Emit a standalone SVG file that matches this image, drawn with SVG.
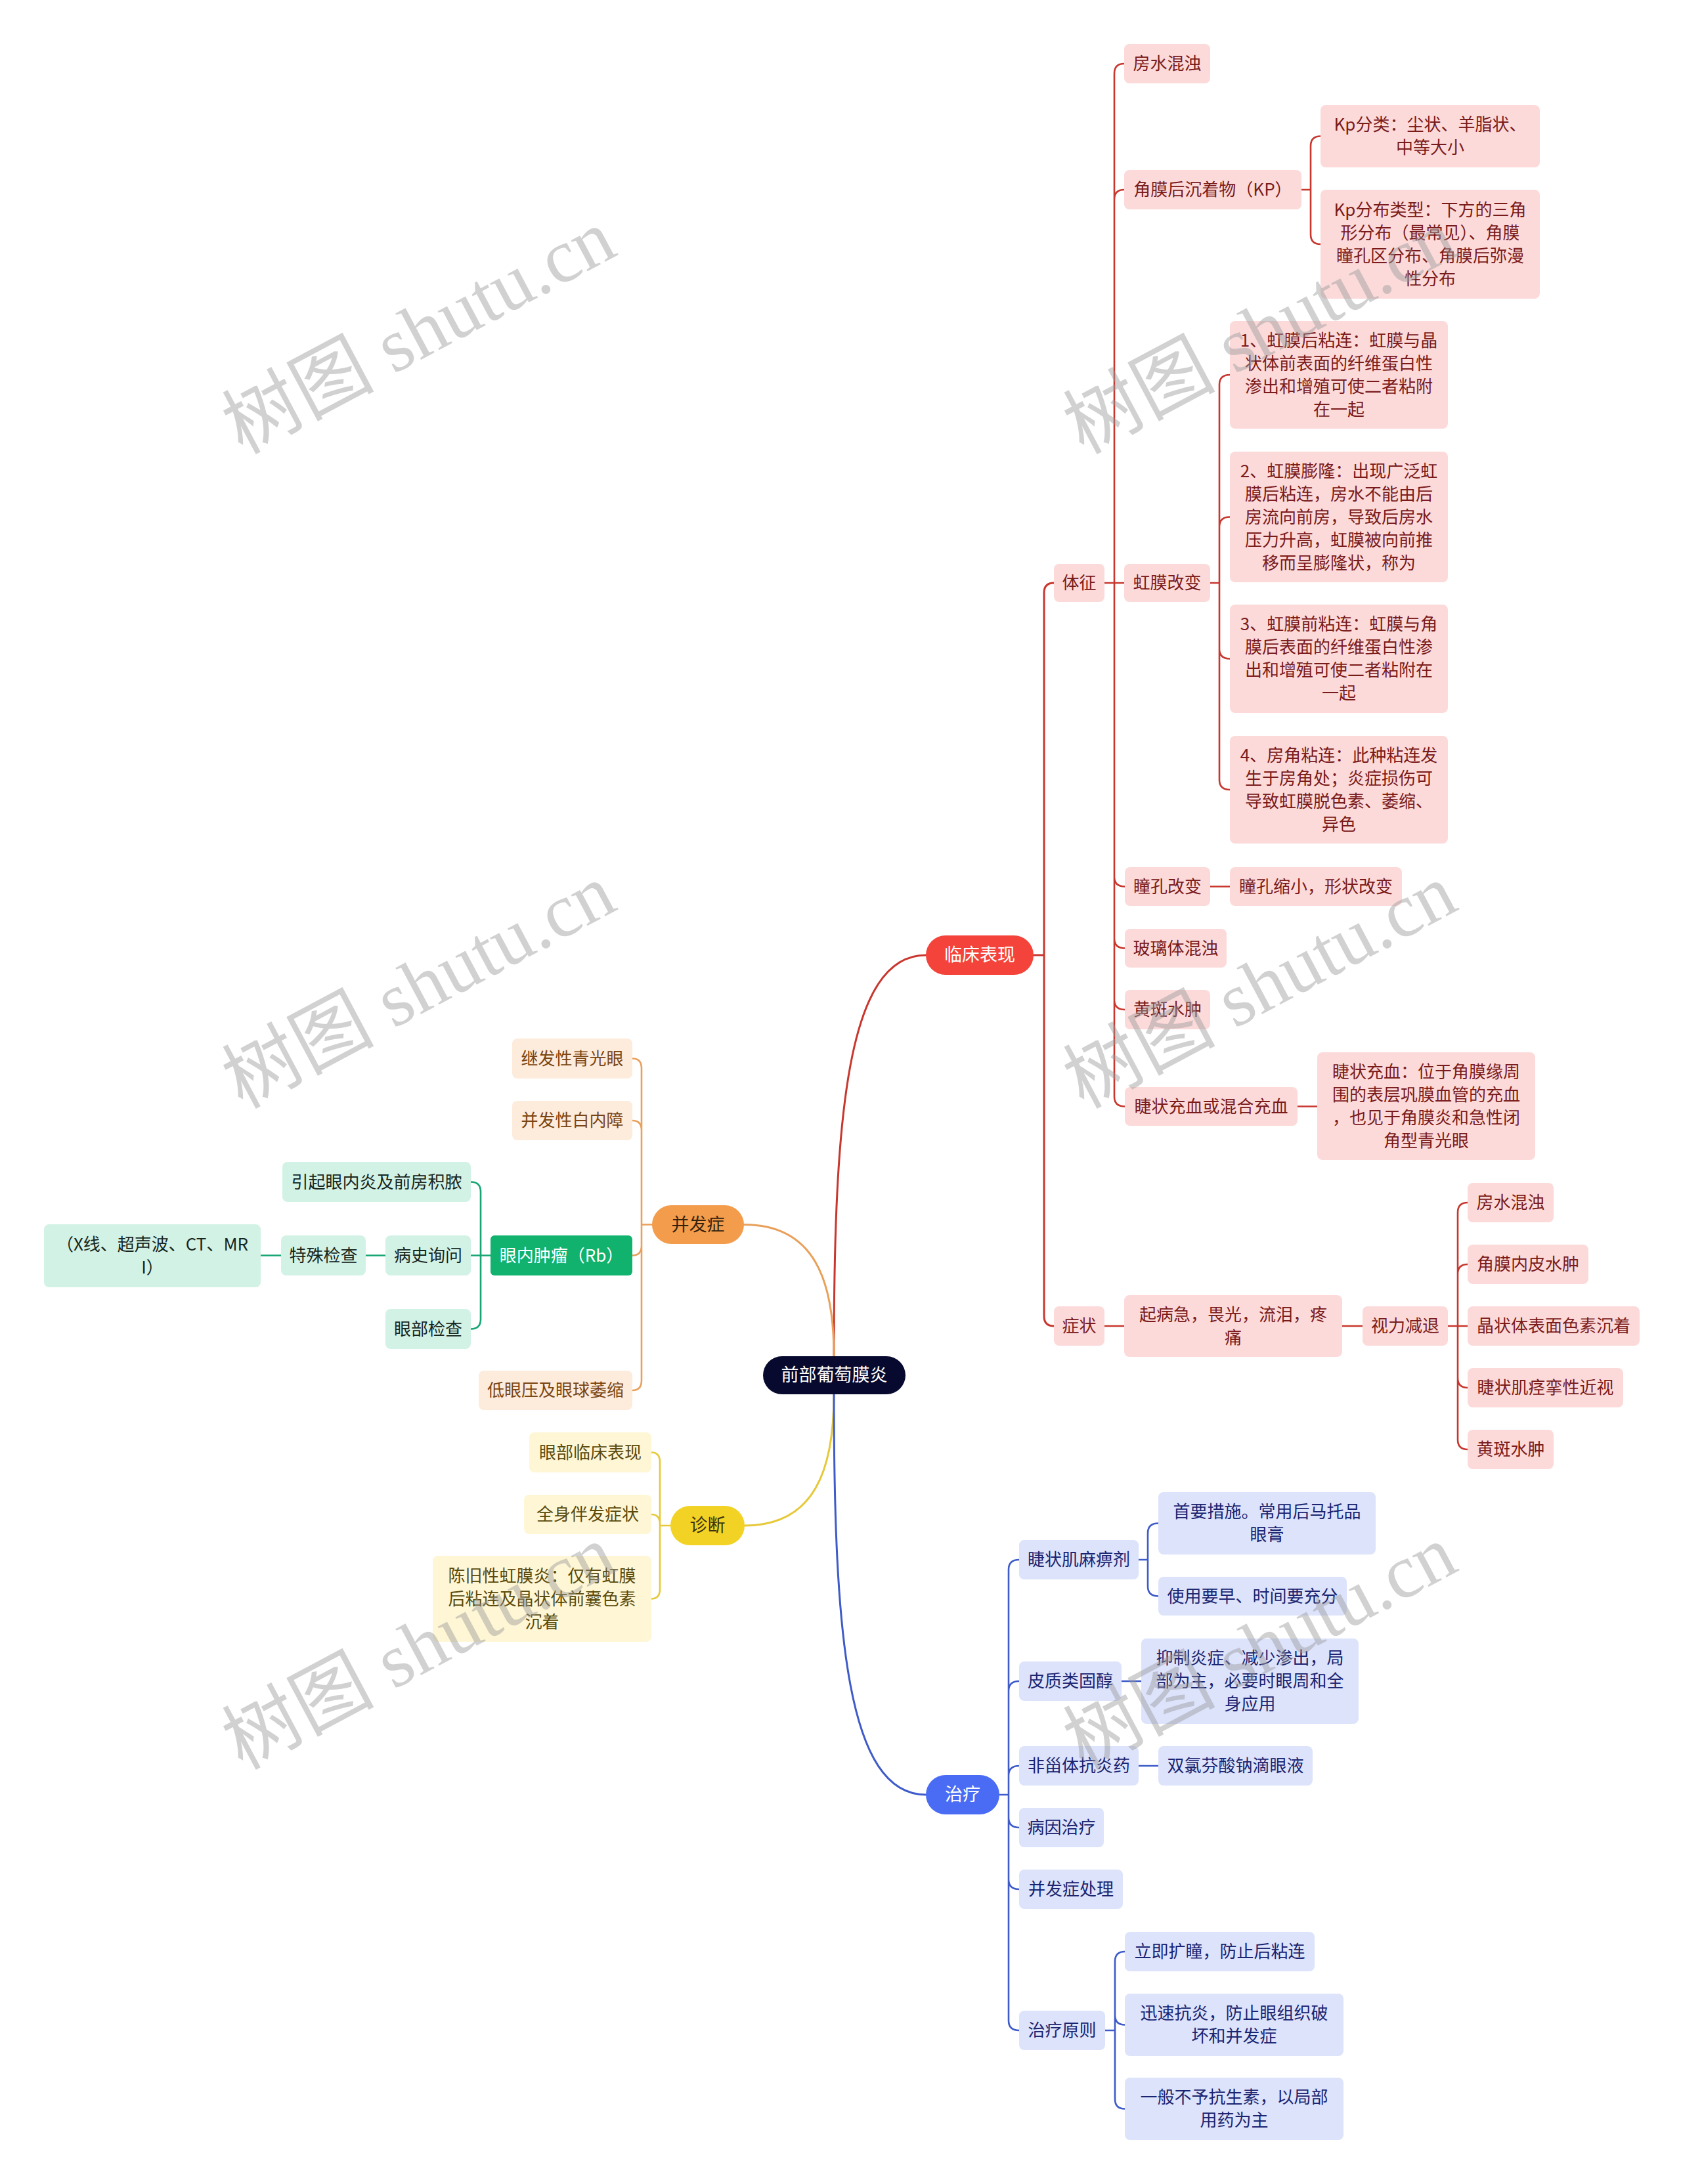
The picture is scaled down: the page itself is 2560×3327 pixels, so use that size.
<svg xmlns="http://www.w3.org/2000/svg" width="2560" height="3327" viewBox="0 0 2560 3327">
<style>
text{font-family:"Noto Sans CJK SC","Noto Sans",sans-serif;font-size:26px;text-anchor:middle}
.c{fill:none;stroke-width:2.6;stroke-linecap:round}
.cr{stroke:#C8372E}.co{stroke:#E9A05A}.cg{stroke:#17A673}.cy{stroke:#E6C93A}.cb{stroke:#3E5BC9}
.m{stroke-width:3}
.r rect{fill:#FCDADA}.r text{fill:#7A1B1B}
.o rect{fill:#FDEBDC}.o text{fill:#7A4512}
.g rect{fill:#D2F2E5}.g text{fill:#17261F}
.y rect{fill:#FEF6D4}.y text{fill:#5A4A0C}
.b rect{fill:#DCE3FB}.b text{fill:#1B2470}
.wm{font-family:"Liberation Serif","Noto Sans CJK SC",serif;font-size:116px;fill:#9A9A9A;opacity:.45}
</style>
<rect width="2560" height="3327" fill="#FFFFFF"/>
<g id="connectors">
<path class="c cr m" d="M1270 2066 C1270 1700 1290 1455 1410 1455"/>
<path class="c co m" d="M1270 2066 C1270 1950 1240 1865.5 1133 1865.5"/>
<path class="c cy m" d="M1270 2124 C1270 2240 1240 2324 1134 2324"/>
<path class="c cb m" d="M1270 2124 C1270 2490 1290 2734 1410 2734"/>
<path class="c cr m" d="M1574 1455 H1590 V903 Q1590 888 1605 888 M1574 1455 H1590 V2005 Q1590 2020 1605 2020"/>
<path class="c cr" d="M1682 888 H1697 V112 Q1697 97 1712 97 M1682 888 H1697 V304 Q1697 289 1712 289 M1682 888 H1712 M1682 888 H1697 V1335.5 Q1697 1350.5 1713 1350.5 M1682 888 H1697 V1429.5 Q1697 1444.5 1713 1444.5 M1682 888 H1697 V1523 Q1697 1538 1713 1538 M1682 888 H1697 V1670.5 Q1697 1685.5 1713 1685.5"/>
<path class="c cr" d="M1982 289 H1996 V222.5 Q1996 207.5 2011 207.5 M1982 289 H1996 V357 Q1996 372 2011 372"/>
<path class="c cr" d="M1843 888 H1857 V586 Q1857 571 1873 571 M1843 888 H1857 V802.5 Q1857 787.5 1873 787.5 M1843 888 H1857 V988.5 Q1857 1003.5 1873 1003.5 M1843 888 H1857 V1188 Q1857 1203 1873 1203"/>
<path class="c cr" d="M1843 1350.5 H1873 M1976 1685.5 H2006 M1682 2020 H1712 M2044 2020 H2075"/>
<path class="c cr" d="M2205 2020 H2220 V1847 Q2220 1832 2235 1832 M2205 2020 H2220 V1941 Q2220 1926 2235 1926 M2205 2020 H2235 M2205 2020 H2220 V2099 Q2220 2114 2235 2114 M2205 2020 H2220 V2193 Q2220 2208 2235 2208"/>
<path class="c cb" d="M1522 2734 H1536 V2391 Q1536 2376 1552 2376 M1522 2734 H1536 V2576 Q1536 2561 1552 2561 M1522 2734 H1536 V2705 Q1536 2690 1552 2690 M1522 2734 H1536 V2769 Q1536 2784 1552 2784 M1522 2734 H1536 V2863 Q1536 2878 1552 2878 M1522 2734 H1536 V3078 Q1536 3093 1552 3093"/>
<path class="c cb" d="M1734 2376 H1748 V2335.5 Q1748 2320.5 1764 2320.5 M1734 2376 H1748 V2416.5 Q1748 2431.5 1764 2431.5 M1708 2561 H1738 M1734 2690 H1764"/>
<path class="c cb" d="M1683 3093 H1698 V2988 Q1698 2973 1713 2973 M1683 3093 H1698 V3069.5 Q1698 3084.5 1713 3084.5 M1683 3093 H1698 V3197.5 Q1698 3212.5 1713 3212.5"/>
<path class="c co" d="M993 1865.5 H977 V1627.5 Q977 1612.5 963 1612.5 M993 1865.5 H977 V1722 Q977 1707 963 1707 M993 1865.5 H977 V1897.5 Q977 1912.5 963 1912.5 M993 1865.5 H977 V2103 Q977 2118 963 2118"/>
<path class="c cg" d="M747 1912.5 H732 V1815.5 Q732 1800.5 717 1800.5 M747 1912.5 H717 M747 1912.5 H732 V2009.5 Q732 2024.5 717 2024.5 M587 1912.5 H557 M428 1912.5 H397"/>
<path class="c cy" d="M1021 2324 H1005 V2227.5 Q1005 2212.5 992 2212.5 M1021 2324 H1005 V2322 Q1005 2307 992 2307 M1021 2324 H1005 V2420.5 Q1005 2435.5 992 2435.5"/>
</g>
<g id="root"><rect x="1162" y="2066" width="217" height="58" rx="29" fill="#070A2E"/><text x="1270.5" y="2104" fill="#FFFFFF" style="font-size:27px">前部葡萄膜炎</text></g>
<g id="n-linchuang"><rect x="1410" y="1425" width="164" height="60" rx="30" fill="#F4433A"/><text x="1492" y="1464" fill="#FFFFFF" style="font-size:27px">临床表现</text></g>
<g id="n-zhiliao"><rect x="1410" y="2704" width="112" height="60" rx="30" fill="#4A6CF4"/><text x="1466" y="2743" fill="#FFFFFF" style="font-size:27px">治疗</text></g>
<g id="n-bingfa"><rect x="993" y="1836" width="140" height="59" rx="29.5" fill="#F39C4B"/><text x="1063" y="1874.5" fill="#33220E" style="font-size:27px">并发症</text></g>
<g id="n-zhenduan"><rect x="1021" y="2294" width="113" height="60" rx="30" fill="#F2D325"/><text x="1077.5" y="2333" fill="#3A3210" style="font-size:27px">诊断</text></g>

<g class="r">
<g id="n-tizheng"><rect x="1605" y="859" width="77" height="58" rx="8"/><text x="1643.5" y="897">体征</text></g>
<g id="n-fangshui1"><rect x="1712" y="67" width="131" height="60" rx="8"/><text x="1777.5" y="106">房水混浊</text></g>
<g id="n-kp"><rect x="1712" y="259" width="270" height="60" rx="8"/><text x="1847" y="298">角膜后沉着物（KP）</text></g>
<g id="n-kp1"><rect x="2011" y="160" width="334" height="95" rx="8"/><text x="2178" y="199">Kp分类：尘状、羊脂状、</text><text x="2178" y="234">中等大小</text></g>
<g id="n-kp2"><rect x="2011" y="289" width="334" height="166" rx="8"/><text x="2178" y="328.5">Kp分布类型：下方的三角</text><text x="2178" y="363.5">形分布（最常见）、角膜</text><text x="2178" y="398.5">瞳孔区分布、角膜后弥漫</text><text x="2178" y="433.5">性分布</text></g>
<g id="n-hongmo"><rect x="1712" y="859" width="131" height="58" rx="8"/><text x="1777.5" y="897">虹膜改变</text></g>
<g id="n-hm1"><rect x="1873" y="489" width="332" height="164" rx="8"/><text x="2039" y="527.5">1、虹膜后粘连：虹膜与晶</text><text x="2039" y="562.5">状体前表面的纤维蛋白性</text><text x="2039" y="597.5">渗出和增殖可使二者粘附</text><text x="2039" y="632.5">在一起</text></g>
<g id="n-hm2"><rect x="1873" y="688" width="332" height="199" rx="8"/><text x="2039" y="726.5">2、虹膜膨隆：出现广泛虹</text><text x="2039" y="761.5">膜后粘连，房水不能由后</text><text x="2039" y="796.5">房流向前房，导致后房水</text><text x="2039" y="831.5">压力升高，虹膜被向前推</text><text x="2039" y="866.5">移而呈膨隆状，称为</text></g>
<g id="n-hm3"><rect x="1873" y="921" width="332" height="165" rx="8"/><text x="2039" y="960">3、虹膜前粘连：虹膜与角</text><text x="2039" y="995">膜后表面的纤维蛋白性渗</text><text x="2039" y="1030">出和增殖可使二者粘附在</text><text x="2039" y="1065">一起</text></g>
<g id="n-hm4"><rect x="1873" y="1121" width="332" height="164" rx="8"/><text x="2039" y="1159.5">4、房角粘连：此种粘连发</text><text x="2039" y="1194.5">生于房角处；炎症损伤可</text><text x="2039" y="1229.5">导致虹膜脱色素、萎缩、</text><text x="2039" y="1264.5">异色</text></g>
<g id="n-tongkong"><rect x="1713" y="1321" width="130" height="59" rx="8"/><text x="1778" y="1359.5">瞳孔改变</text></g>
<g id="n-tongkong1"><rect x="1873" y="1321" width="262" height="59" rx="8"/><text x="2004" y="1359.5">瞳孔缩小，形状改变</text></g>
<g id="n-boli"><rect x="1713" y="1415" width="155" height="59" rx="8"/><text x="1790.5" y="1453.5">玻璃体混浊</text></g>
<g id="n-huangban1"><rect x="1713" y="1508" width="130" height="60" rx="8"/><text x="1778" y="1547">黄斑水肿</text></g>
<g id="n-jiezhuang"><rect x="1713" y="1656" width="263" height="59" rx="8"/><text x="1844.5" y="1694.5">睫状充血或混合充血</text></g>
<g id="n-jiezhuang1"><rect x="2006" y="1603" width="332" height="164" rx="8"/><text x="2172" y="1641.5">睫状充血：位于角膜缘周</text><text x="2172" y="1676.5">围的表层巩膜血管的充血</text><text x="2172" y="1711.5">，也见于角膜炎和急性闭</text><text x="2172" y="1746.5">角型青光眼</text></g>
<g id="n-zhengzhuang"><rect x="1605" y="1990" width="77" height="60" rx="8"/><text x="1643.5" y="2029">症状</text></g>
<g id="n-qibing"><rect x="1712" y="1973" width="332" height="94" rx="8"/><text x="1878" y="2011.5">起病急，畏光，流泪，疼</text><text x="1878" y="2046.5">痛</text></g>
<g id="n-shili"><rect x="2075" y="1990" width="130" height="60" rx="8"/><text x="2140" y="2029">视力减退</text></g>
<g id="n-fangshui2"><rect x="2235" y="1802" width="131" height="60" rx="8"/><text x="2300.5" y="1841">房水混浊</text></g>
<g id="n-neipi"><rect x="2235" y="1896" width="184" height="60" rx="8"/><text x="2327" y="1935">角膜内皮水肿</text></g>
<g id="n-jingzhuang"><rect x="2235" y="1990" width="262" height="60" rx="8"/><text x="2366" y="2029">晶状体表面色素沉着</text></g>
<g id="n-jiezhuangji"><rect x="2235" y="2084" width="237" height="60" rx="8"/><text x="2353.5" y="2123">睫状肌痉挛性近视</text></g>
<g id="n-huangban2"><rect x="2235" y="2178" width="131" height="60" rx="8"/><text x="2300.5" y="2217">黄斑水肿</text></g>
</g>

<g class="b">
<g id="n-mabi"><rect x="1552" y="2346" width="182" height="60" rx="8"/><text x="1643" y="2385">睫状肌麻痹剂</text></g>
<g id="n-mabi1"><rect x="1764" y="2273" width="331" height="95" rx="8"/><text x="1929.5" y="2312">首要措施。常用后马托品</text><text x="1929.5" y="2347">眼膏</text></g>
<g id="n-mabi2"><rect x="1764" y="2402" width="287" height="59" rx="8"/><text x="1907.5" y="2440.5">使用要早、时间要充分</text></g>
<g id="n-pizhi"><rect x="1552" y="2531" width="156" height="60" rx="8"/><text x="1630" y="2570">皮质类固醇</text></g>
<g id="n-pizhi1"><rect x="1738" y="2496" width="331" height="130" rx="8"/><text x="1903.5" y="2535">抑制炎症、减少渗出，局</text><text x="1903.5" y="2570">部为主，必要时眼周和全</text><text x="1903.5" y="2605">身应用</text></g>
<g id="n-feizai"><rect x="1552" y="2660" width="182" height="60" rx="8"/><text x="1643" y="2699">非甾体抗炎药</text></g>
<g id="n-feizai1"><rect x="1764" y="2660" width="235" height="60" rx="8"/><text x="1881.5" y="2699">双氯芬酸钠滴眼液</text></g>
<g id="n-bingyin"><rect x="1552" y="2754" width="129" height="60" rx="8"/><text x="1616.5" y="2793">病因治疗</text></g>
<g id="n-bingfachuli"><rect x="1552" y="2848" width="158" height="60" rx="8"/><text x="1631" y="2887">并发症处理</text></g>
<g id="n-yuanze"><rect x="1552" y="3063" width="131" height="60" rx="8"/><text x="1617.5" y="3102">治疗原则</text></g>
<g id="n-yuanze1"><rect x="1713" y="2943" width="289" height="60" rx="8"/><text x="1857.5" y="2982">立即扩瞳，防止后粘连</text></g>
<g id="n-yuanze2"><rect x="1713" y="3037" width="333" height="95" rx="8"/><text x="1879.5" y="3076">迅速抗炎，防止眼组织破</text><text x="1879.5" y="3111">坏和并发症</text></g>
<g id="n-yuanze3"><rect x="1713" y="3165" width="333" height="95" rx="8"/><text x="1879.5" y="3204">一般不予抗生素，以局部</text><text x="1879.5" y="3239">用药为主</text></g>
</g>

<g class="o">
<g id="n-qingguang"><rect x="780" y="1582" width="183" height="61" rx="8"/><text x="871.5" y="1621.5">继发性青光眼</text></g>
<g id="n-baineizhang"><rect x="780" y="1677" width="183" height="60" rx="8"/><text x="871.5" y="1716">并发性白内障</text></g>
<g id="n-diyanya"><rect x="729" y="2088" width="234" height="60" rx="8"/><text x="846" y="2127">低眼压及眼球萎缩</text></g>
</g>
<g id="n-zhongliu"><rect x="747" y="1882" width="216" height="61" rx="6" fill="#10B26E"/><text x="855" y="1921.5" fill="#FFFFFF">眼内肿瘤（Rb）</text></g>
<g class="g">
<g id="n-yanneiyan"><rect x="430" y="1770" width="287" height="61" rx="8"/><text x="573.5" y="1809.5">引起眼内炎及前房积脓</text></g>
<g id="n-bingshi"><rect x="587" y="1882" width="130" height="61" rx="8"/><text x="652" y="1921.5">病史询问</text></g>
<g id="n-yanbu"><rect x="587" y="1994" width="130" height="61" rx="8"/><text x="652" y="2033.5">眼部检查</text></g>
<g id="n-teshu"><rect x="428" y="1882" width="129" height="61" rx="8"/><text x="492.5" y="1921.5">特殊检查</text></g>
<g id="n-xxian"><rect x="67" y="1865" width="330" height="96" rx="8"/><text x="232" y="1904.5">（X线、超声波、CT、MR</text><text x="232" y="1939.5">I）</text></g>
</g>

<g class="y">
<g id="n-linchuang2"><rect x="806" y="2182" width="186" height="61" rx="8"/><text x="899" y="2221.5">眼部临床表现</text></g>
<g id="n-quanshen"><rect x="798" y="2277" width="194" height="60" rx="8"/><text x="895" y="2316">全身伴发症状</text></g>
<g id="n-chenjiu"><rect x="659" y="2370" width="333" height="131" rx="8"/><text x="825.5" y="2409.5">陈旧性虹膜炎：仅有虹膜</text><text x="825.5" y="2444.5">后粘连及晶状体前囊色素</text><text x="825.5" y="2479.5">沉着</text></g>
</g>

<g id="watermarks">
<text class="wm" transform="translate(656,540) rotate(-28)">树图 shutu.cn</text>
<text class="wm" transform="translate(1937,540) rotate(-28)">树图 shutu.cn</text>
<text class="wm" transform="translate(656,1537) rotate(-28)">树图 shutu.cn</text>
<text class="wm" transform="translate(1937,1537) rotate(-28)">树图 shutu.cn</text>
<text class="wm" transform="translate(656,2544) rotate(-28)">树图 shutu.cn</text>
<text class="wm" transform="translate(1937,2544) rotate(-28)">树图 shutu.cn</text>
</g>
</svg>
